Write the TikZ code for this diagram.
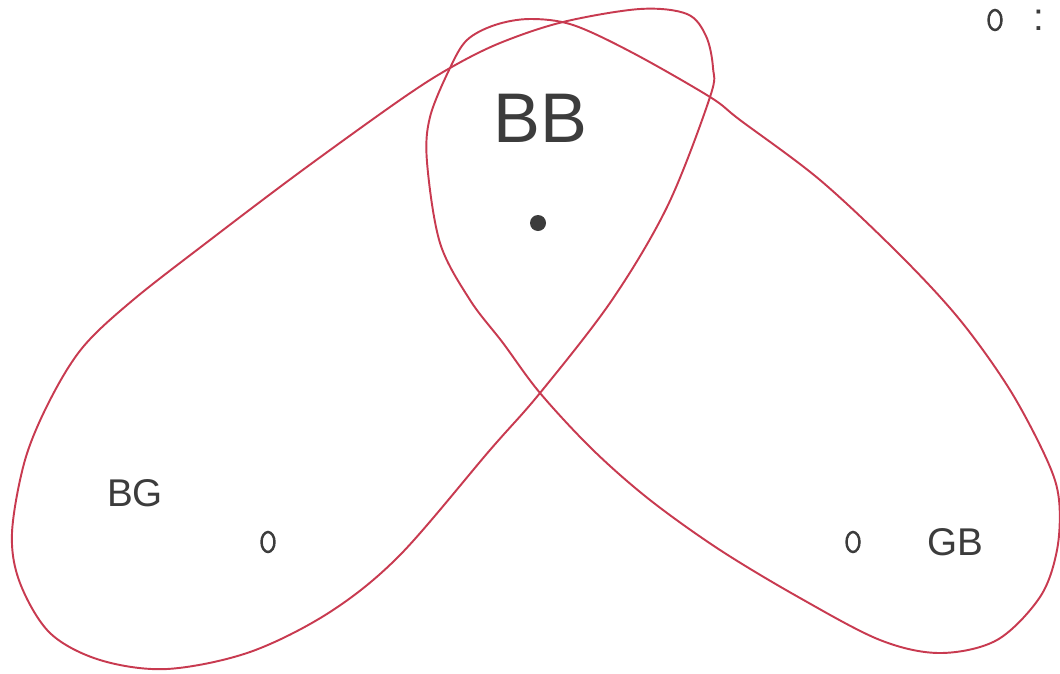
\documentclass[tikz,border=0pt]{standalone}
\usepackage{fontspec}
\setmainfont{Liberation Sans}
\usetikzlibrary{shapes.geometric, positioning}
\definecolor{setred}{HTML}{C83A50}
\definecolor{inkgray}{HTML}{3C3C3C}
\tikzset{
  setline/.style={draw=setred, line width=1.1pt, line join=round},
  biglbl/.style={font=\fontsize{40}{40}\selectfont, text=inkgray, inner sep=0pt},
  lbl/.style={font=\fontsize{22}{22}\selectfont, text=inkgray, inner sep=0pt},
  hit/.style={circle, fill=inkgray, minimum size=0.32cm, inner sep=0pt},
  miss/.style={ellipse, draw=inkgray, line width=1.4pt, minimum width=0.26cm, minimum height=0.4cm, inner sep=0pt},
}

\begin{document}
\begin{tikzpicture}[x=0.02cm, y=-0.02cm]
    \useasboundingbox (0,0) rectangle (1060,673);
    % crossing points of the two loops
    \coordinate (top) at (450,68);
    \coordinate (rim) at (710,97);
    \coordinate (mid) at (540,393);
    % left loop (BG side)
    \draw[setline] plot[smooth cycle, tension=0.55] coordinates {
      (mid) (612,300) (668,205) (rim) (713,68) (706,36) (687,14)
      (640,9) (563,22) (500,43) (top) (400,100) (300,172) (210,240) (133,300)
      (83,347) (50,400) (25,460) (12,533) (20,583) (50,633) (100,660) (167,669)
      (250,652) (330,612) (400,555) (490,450)};
    % right loop (GB side)
    \draw[setline] plot[smooth cycle, tension=0.55] coordinates {
      (mid) (593,450) (650,500) (720,550) (800,598) (880,640) (940,653)
      (997,640) (1040,597) (1057,550) (1059,500) (1047,460) (1010,390) (960,320)
      (900,255) (820,180) (740,120) (rim) (633,53) (573,25) (530,19) (495,25)
      (467,40) (top) (430,117) (427,162) (440,243) (470,300) (503,343)};
    % labels
    \node[biglbl] (bb) at (540,118) {BB};
    \node[lbl] (bg) at (135,493) {BG};
    \node[lbl] (gb) at (955,542) {GB};
    % outcomes
    \node[hit] (bbpt) at (538,223) {};
    \node[miss] (bgpt) at (268,542) {};
    \node[miss] (gbpt) at (853,542) {};
    % legend in the corner
    \node[miss] (keypt) at (995,20) {};
    \node[lbl, right=0.6cm of keypt] (keycol) {:};
\end{tikzpicture}
\end{document}
